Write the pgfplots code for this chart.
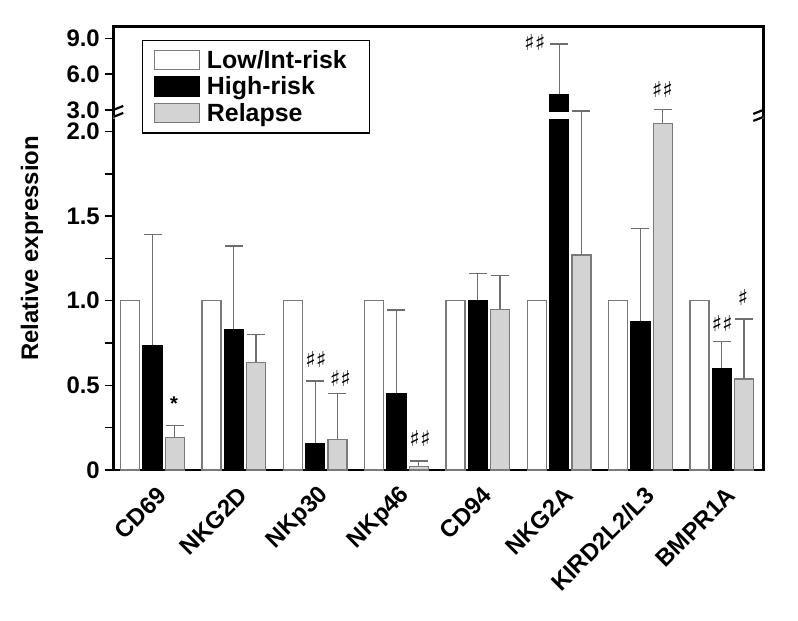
\documentclass[border=0pt]{standalone}
\usepackage{fontspec}
\setmainfont{Liberation Sans}
\newfontfamily\djv{DejaVu Sans}
\usepackage{pgfplots}
\usepackage{pgfplotstable}
\pgfplotsset{compat=1.18}

% mean values and upper ends of the error bars
\pgfplotstableread{
x low high hightop rel reltop
0 1 0.734 1.392 0.190 0.262
1 1 0.827 1.323 0.636 0.801
2 1 0.157 0.526 0.181 0.453
3 1 0.449 0.945 0.020 0.053
4 1 1.000 1.160 0.947 1.148
5 1 4.240 8.550 1.270 2.800
6 1 0.876 1.425 2.048 3.050
7 1 0.600 0.760 0.537 0.892
}\datatable

\definecolor{barborder}{HTML}{7A7A7A}
\definecolor{relfill}{HTML}{D3D3D3}
\definecolor{errcol}{HTML}{6E6E6E}

\begin{document}
\begin{tikzpicture}
\begin{axis}[
  scale only axis,
  width=650bp, height=443.3bp,
  xmin=-0.482, xmax=7.51,
  ymin=0, ymax=10,
  y coord trafo/.code={\pgfmathparse{ifthenelse(#1<=2.1,#1,ifthenelse(#1<3,2.1+(#1-2.1)*0.0307,2.1276+(#1-3)*0.0702))}},
  y coord inv trafo/.code={\pgfmathparse{ifthenelse(#1<=2.1,#1,ifthenelse(#1<2.1276,2.1+(#1-2.1)/0.0307,3+(#1-2.1276)/0.0702))}},
  enlargelimits=false,
  axis line style={line width=2.5bp},
  xtick={0,...,7},
  xticklabels={CD69,NKG2D,NKp30,NKp46,CD94,NKG2A,KIRD2L2/L3,BMPR1A},
  xtick style={draw=none},
  xticklabel style={xshift=12bp, yshift=-11bp, rotate=45, anchor=east, font=\bfseries\fontsize{24}{28}\selectfont},
  ytick={0,0.25,0.5,0.75,1,1.25,1.5,1.75,2,3,6,9},
  yticklabels={0,,0.5,,1.0,,1.5,,2.0,3.0,6.0,9.0},
  yticklabel style={font=\bfseries\fontsize{24}{28}\selectfont, xshift=-2bp},
  ytick pos=left,
  tick align=outside,
  major tick length=8bp,
  ytick style={line width=1.5bp, black},
  ylabel={Relative expression},
  every axis y label/.style={at={(axis description cs:-0.125,0.5)}, rotate=90, anchor=center,
    font=\bfseries\fontsize{24}{28}\selectfont},
  bar width=0.234,
  legend image code/.code={\draw[#1, line width=1.3bp] (0bp,-9.5bp) rectangle (45bp,9.5bp);},
  legend style={draw=black, line width=1.5bp, at={(0.044,0.971)}, anchor=north west,
    font=\bfseries\fontsize{25}{27}\selectfont, inner xsep=11bp, inner ysep=8bp, row sep=3bp,
    nodes={inner sep=2bp}, /tikz/every odd column/.append style={column sep=5bp}},
  legend cell align=left,
]
% error bars (upper ends), drawn under the bars
\addplot[forget plot, ycomb, errcol, line width=1.3bp, mark=-, mark size=9bp, mark options={errcol, line width=1.3bp}]
  table[x=x, y=hightop] {\datatable};
\addplot[forget plot, ycomb, errcol, line width=1.3bp, mark=-, mark size=9bp, mark options={errcol, line width=1.3bp}]
  table[x expr=\thisrow{x}+0.274, y=reltop] {\datatable};

\addplot[ybar, bar shift=-0.274, fill=white, draw=barborder, line width=1.3bp]
  table[x=x, y=low] {\datatable};
\addlegendentry{Low/Int-risk\hspace*{10bp}}
\addplot[ybar, bar shift=0, fill=black, draw=black, line width=1.3bp]
  table[x=x, y=high] {\datatable};
\addlegendentry{High-risk}
\addplot[ybar, bar shift=0.274, fill=relfill, draw=barborder, line width=1.3bp]
  table[x=x, y=rel] {\datatable};
\addlegendentry{Relapse}

% white gap in the NKG2A bar at the axis break
\fill[white] ({axis cs:4.875,0}|-{rel axis cs:0,0.792}) rectangle ({axis cs:5.125,0}|-{rel axis cs:0,0.8076});
% break marks (left spine)
\fill[white] ({rel axis cs:0,0.801}) ++(-10bp,-5bp) -- ++(20bp,8bp) -- ++(0,5bp) -- ++(-20bp,-8bp) -- cycle;
\draw[line width=2.2bp] ({rel axis cs:0,0.801}) ++(-10bp,-6bp) -- ++(20bp,8bp);
\draw[line width=2.2bp] ({rel axis cs:0,0.801}) ++(-10bp,1bp) -- ++(20bp,8bp);
% break marks (right spine)
\fill[white] ({rel axis cs:1,0.801}) ++(-10bp,-5bp) -- ++(20bp,8bp) -- ++(0,5bp) -- ++(-20bp,-8bp) -- cycle;
\draw[line width=2.2bp] ({rel axis cs:1,0.801}) ++(-10bp,-6bp) -- ++(20bp,8bp);
\draw[line width=2.2bp] ({rel axis cs:1,0.801}) ++(-10bp,1bp) -- ++(20bp,8bp);

% significance marks
\node[font=\bfseries\fontsize{20}{22}\selectfont] at (axis cs:0.264,0.39) {*};
\node[font=\djv\fontsize{22}{24}\selectfont] at (axis cs:4.70,8.69) {♯♯};
\node[font=\djv\fontsize{22}{24}\selectfont] at (axis cs:6.27,4.74) {♯♯};
\node[font=\djv\fontsize{22}{24}\selectfont] at (axis cs:2.01,0.65) {♯♯};
\node[font=\djv\fontsize{22}{24}\selectfont] at (axis cs:2.31,0.543) {♯♯};
\node[font=\djv\fontsize{22}{24}\selectfont] at (axis cs:3.29,0.189) {♯♯};
\node[font=\djv\fontsize{22}{24}\selectfont] at (axis cs:7.005,0.868) {♯♯};
\node[font=\djv\fontsize{22}{24}\selectfont] at (axis cs:7.26,1.02) {♯};
\end{axis}
\path (current axis.south west) ++(-113.3bp,-151bp) rectangle ++(798bp,621bp);
\end{tikzpicture}
\end{document}
